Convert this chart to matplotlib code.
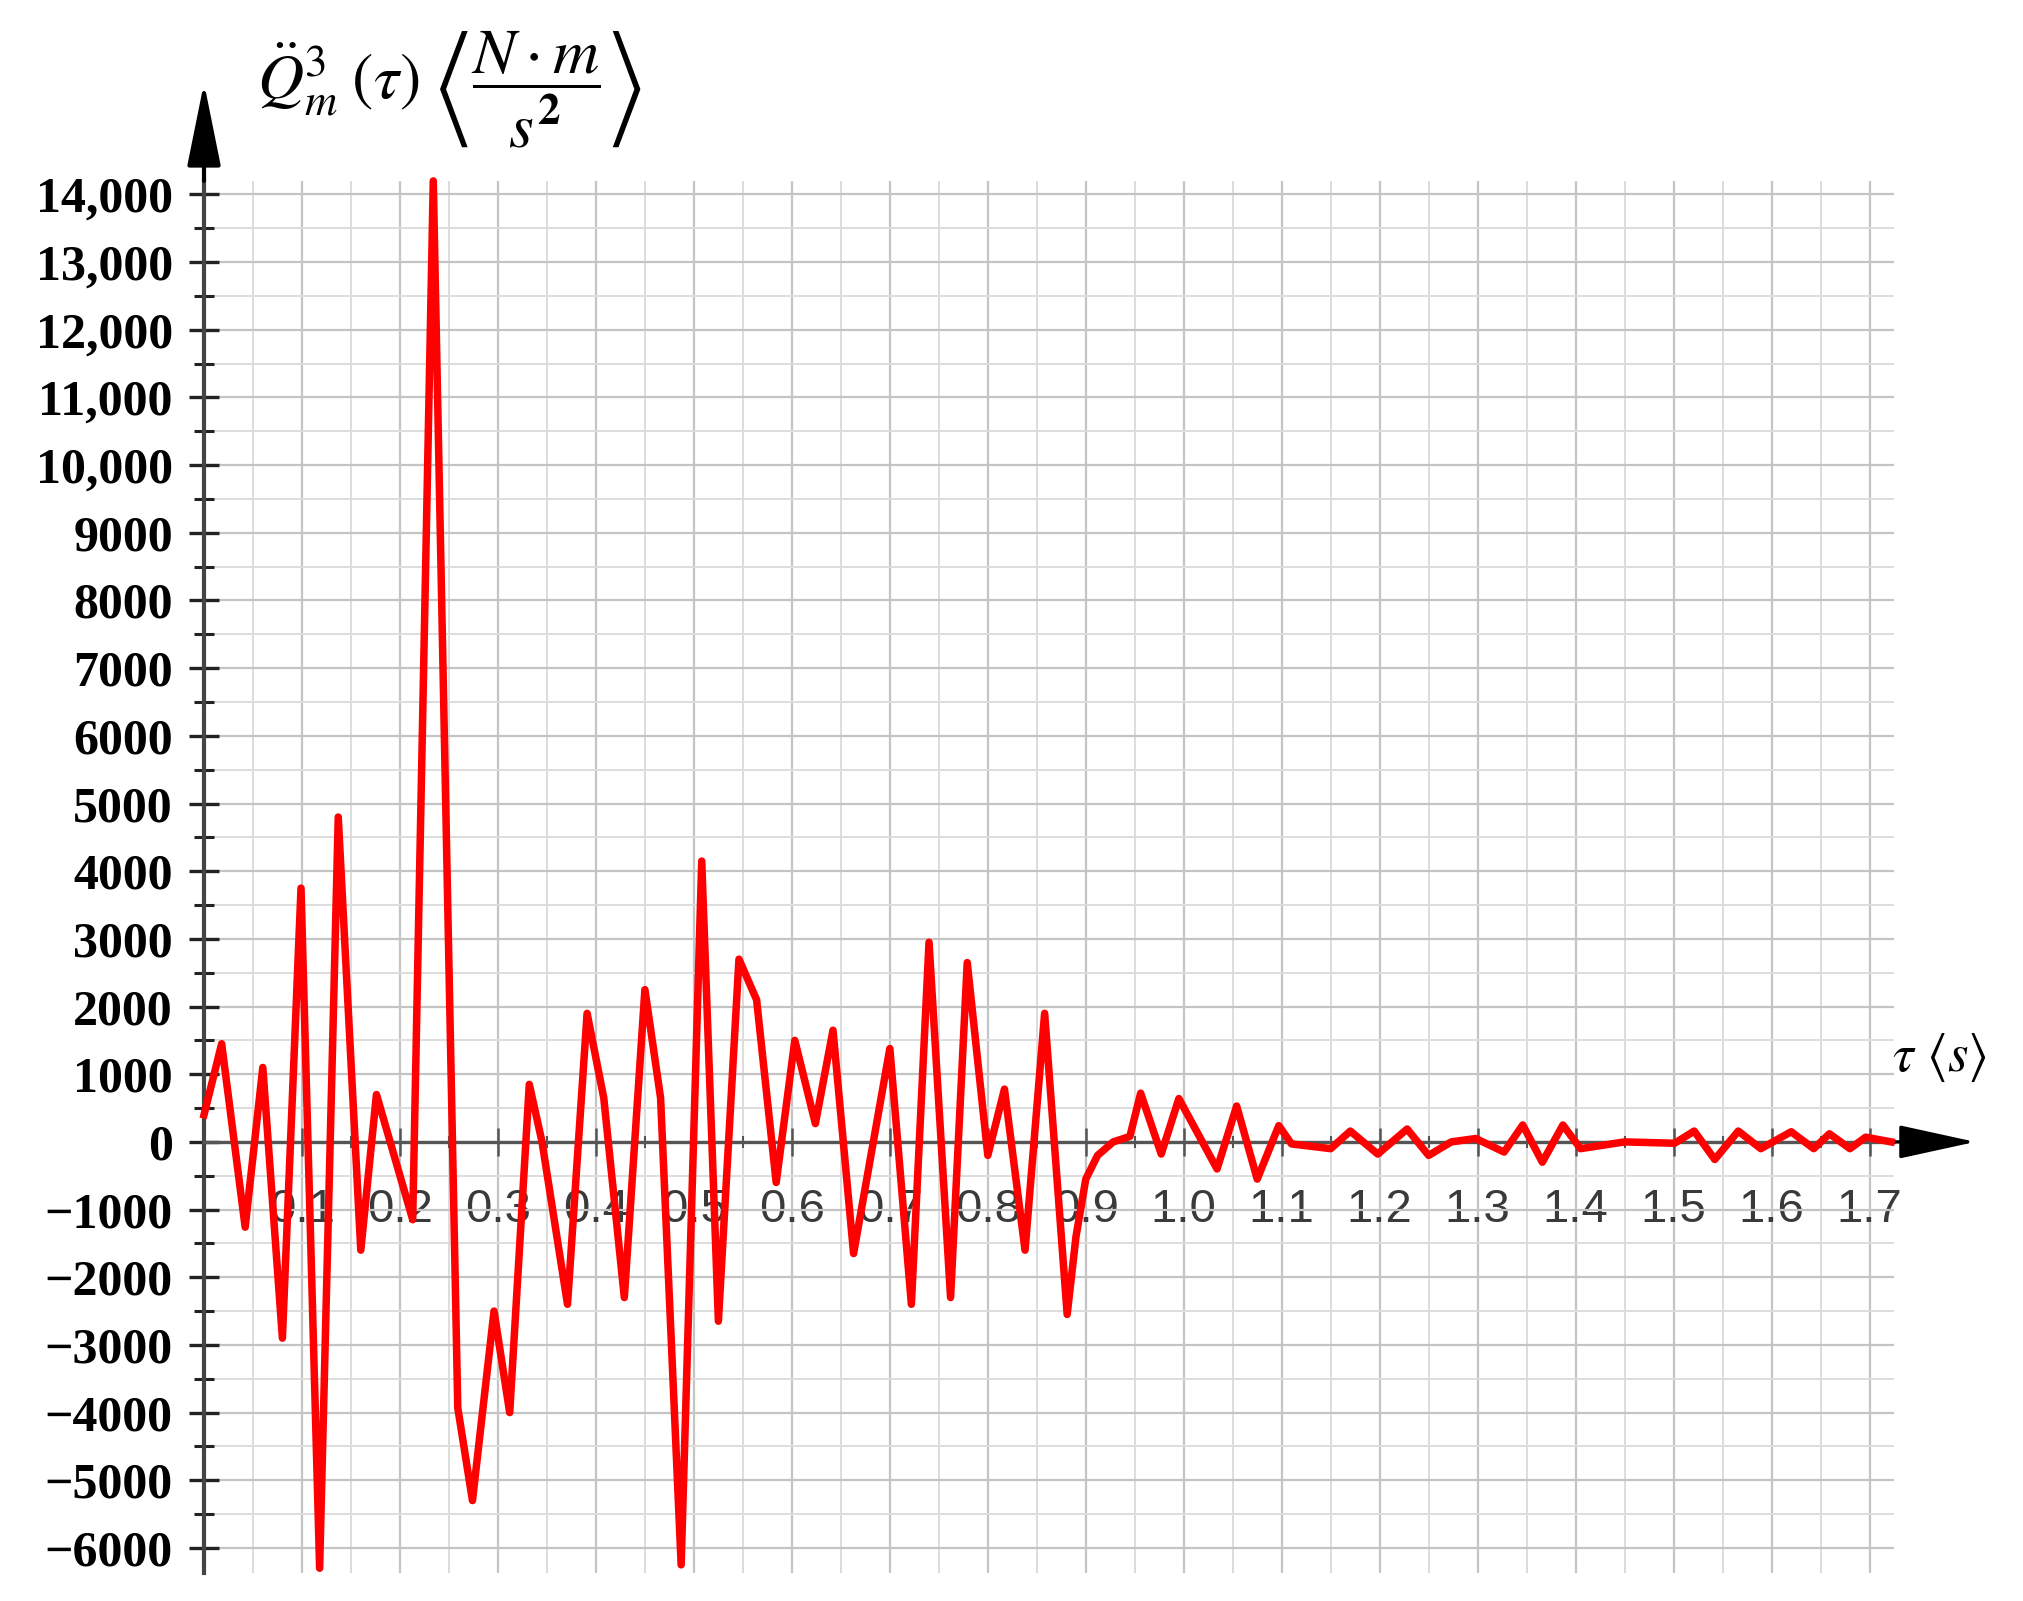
import matplotlib
matplotlib.use('Agg')
import matplotlib.pyplot as plt
import numpy as np

plt.rcParams['mathtext.fontset'] = 'stix'

# time (s) and Q''(tau) values
tau = [0.0, 0.018, 0.042, 0.06, 0.08, 0.099, 0.118, 0.137, 0.16, 0.176,
       0.213, 0.234, 0.259, 0.274, 0.296, 0.312, 0.332, 0.345, 0.371, 0.391,
       0.408, 0.429, 0.45, 0.466, 0.487, 0.508, 0.525, 0.546, 0.564, 0.584,
       0.603, 0.624, 0.642, 0.663, 0.70, 0.722, 0.74, 0.762, 0.779, 0.80,
       0.817, 0.838, 0.858, 0.881, 0.89, 0.90, 0.912, 0.928, 0.945, 0.956,
       0.977, 0.995, 1.034, 1.054, 1.075, 1.097, 1.11, 1.15, 1.17, 1.198,
       1.228, 1.25, 1.273, 1.298, 1.327, 1.346, 1.366, 1.387, 1.405, 1.45,
       1.501, 1.521, 1.542, 1.566, 1.589, 1.62, 1.643, 1.659, 1.68, 1.696,
       1.722]
q = [400, 1450, -1260, 1100, -2900, 3750, -6300, 4800, -1600, 700,
     -1150, 14200, -3930, -5300, -2500, -4000, 850, 0, -2400, 1900,
     650, -2300, 2250, 650, -6250, 4150, -2650, 2700, 2100, -600,
     1500, 270, 1650, -1650, 1380, -2400, 2950, -2300, 2650, -200,
     780, -1600, 1900, -2550, -1400, -550, -200, 0, 80, 720,
     -180, 640, -400, 530, -550, 240, -30, -100, 160, -180,
     190, -200, 0, 50, -150, 250, -300, 250, -100, 0,
     -20, 160, -260, 160, -100, 150, -100, 120, -100, 70,
     0]

y_ticks = list(range(-6000, 14001, 1000))
y_labels = ['\u2212%d' % -v if v < 0 else (format(v, ',') if v >= 10000 else str(v))
            for v in y_ticks]
x_ticks = [round(0.1 * i, 1) for i in range(1, 18)]
x_labels = ['%.1f' % v for v in x_ticks]

fig = plt.figure(figsize=(20.24, 16.01), dpi=100)
ax = fig.add_axes([0.1008, 0.0175, 0.9358 - 0.1008, 0.887 - 0.0175])

# spines first: set_position resets the tick setup
ax.spines['top'].set_visible(False)
ax.spines['right'].set_visible(False)
ax.spines['bottom'].set_position(('data', 0))
ax.spines['bottom'].set_color('#555555')
ax.spines['bottom'].set_linewidth(2.4)
ax.spines['left'].set_color('#444444')
ax.spines['left'].set_linewidth(3.0)

ax.plot(tau, q, color='#ff0000', lw=5.4, zorder=4, clip_on=False)

ax.set_xlim(0, 1.725)
ax.set_ylim(-6370, 14200)

ax.set_xticks(x_ticks)
ax.set_xticklabels(x_labels, fontfamily='Liberation Sans', fontsize=34, color='#3a3a3a')
ax.set_xticks(np.arange(0.05, 1.725, 0.1), minor=True)
ax.set_yticks(y_ticks)
ax.set_yticklabels(y_labels, fontfamily='Liberation Serif', fontweight='bold', fontsize=36)
ax.set_yticks(np.arange(-5500, 14000, 1000), minor=True)

ax.grid(which='major', color='#c4c4c4', lw=1.6)
ax.grid(which='minor', color='#dddddd', lw=1.4)
ax.set_axisbelow(True)

ax.tick_params(axis='y', which='major', direction='inout', length=21, width=2.4, pad=12, color='#222222')
ax.tick_params(axis='y', which='minor', direction='inout', length=14, width=2.2, color='#222222')
ax.tick_params(axis='x', which='major', direction='inout', length=20, width=1.8, pad=23, color='#555555')
ax.tick_params(axis='x', which='minor', direction='inout', length=8, width=1.5, color='#555555')

# axis arrows
ax.annotate('', xy=(0, 15650), xytext=(0, 14200), annotation_clip=False,
            arrowprops=dict(arrowstyle='-|>,head_length=52,head_width=10.5', mutation_scale=1,
                            color='black', lw=3.0, shrinkA=0, shrinkB=0))
ax.annotate('', xy=(1.808, 0), xytext=(1.725, 0), annotation_clip=False,
            arrowprops=dict(arrowstyle='-|>,head_length=48,head_width=10.5', mutation_scale=1,
                            color='black', lw=2.4, shrinkA=0, shrinkB=0))

fig.text(0.127, 0.944, r'$\ddot{Q}_m^{3}\;(\tau)\;\left\langle\dfrac{N\cdot m}{s^{\mathbf{2}}}\right\rangle$',
         fontsize=46, ha='left', va='center')
fig.text(0.935, 0.339, r'$\tau\ \langle s\rangle$', fontsize=38, ha='left', va='center')

fig.savefig('out.png', dpi=100)
